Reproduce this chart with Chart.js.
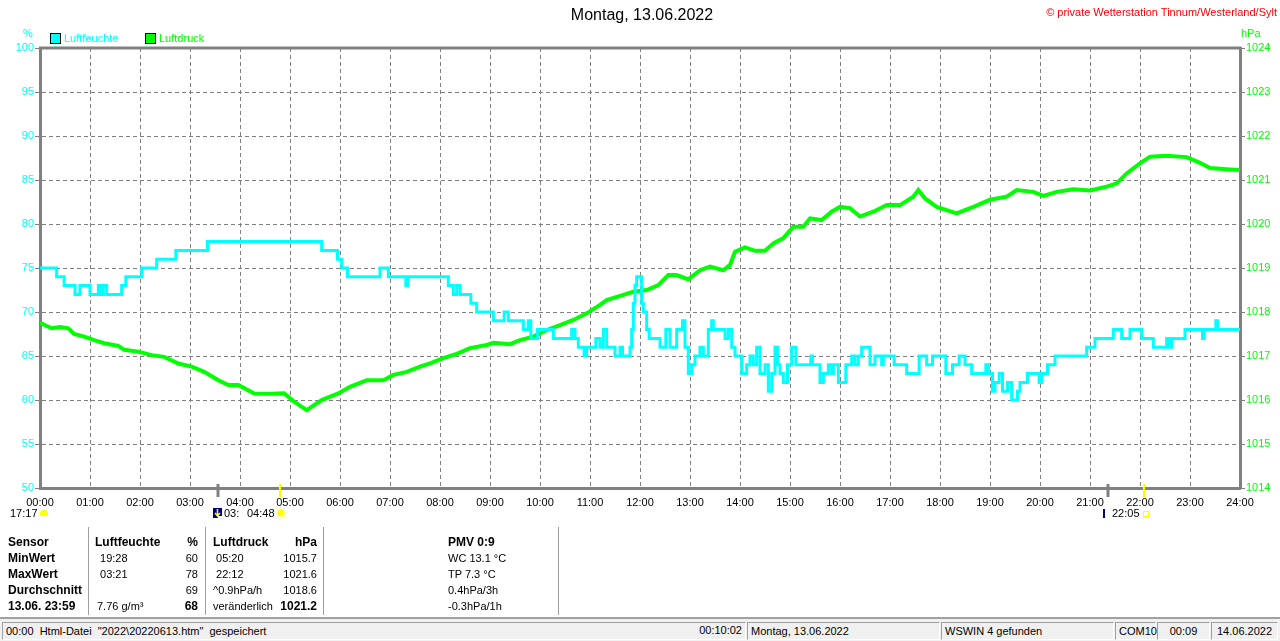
<!DOCTYPE html>
<html>
<head>
<meta charset="utf-8">
<script src="https://cdn.jsdelivr.net/npm/chart.js@4/dist/chart.umd.min.js"></script>
<style>
  html, body { margin:0; padding:0; background:#fff; }
  body { width:1280px; height:641px; position:relative; overflow:hidden; font-family:"Liberation Sans", Arial, sans-serif; font-size:11px; color:#000; }
  #c { position:absolute; left:0; top:0; }
  .abs { position:absolute; white-space:pre; line-height:14px; }
  .b { font-weight:bold; font-size:12px; }
  .r { text-align:right; }
  .sq { position:absolute; width:9px; height:9px; border:1px solid #000; }
  .vsep { position:absolute; top:527px; height:88px; width:1px; background:#a0a0a0; border-right:1px solid #fff; }
  #status { position:absolute; left:0; top:617px; width:1280px; height:24px; background:#f0f0f0; border-top:2px solid #a0a0a0; box-sizing:border-box; }
  .panel { position:absolute; top:3px; height:18px; box-sizing:border-box; border-top:1px solid #a0a0a0; border-left:1px solid #a0a0a0; border-bottom:1px solid #fff; border-right:1px solid #fff; line-height:16px; white-space:pre; padding:0 3px; }
</style>
</head>
<body>
<canvas id="c" width="1280" height="520"></canvas>

<!-- header texts -->
<div class="abs" style="left:0;width:1284px;top:6px;text-align:center;font-size:16px;line-height:18px;">Montag, 13.06.2022</div>
<div class="abs r" style="right:3px;top:5px;color:#ff0000;">© private Wetterstation Tinnum/Westerland/Sylt</div>
<div class="abs" style="left:23px;top:26px;color:#00ffff;">%</div>
<div class="abs" style="left:1241px;top:26px;color:#00ff00;">hPa</div>
<div id="legend"></div>

<!-- below-axis events -->
<div class="abs" style="left:10px;top:506px;">17:17</div>
<div style="position:absolute;left:40px;top:510px;width:8px;height:6px;background:#ffff00;border-radius:4px 4px 0 0;"></div>
<svg style="position:absolute;left:213px;top:508px;" width="9" height="10"><rect x="0" y="0" width="9" height="10" fill="#000080"/><path d="M4.5 1 L4.5 7 M2 5 L4.5 8 L7 5" stroke="#ffff00" stroke-width="1.5" fill="none"/><rect x="5" y="8" width="4" height="2" fill="#fff"/></svg>
<div class="abs" style="left:224px;top:506px;">03:</div>
<div class="abs" style="left:247px;top:506px;">04:48</div>
<svg style="position:absolute;left:275px;top:507px;" width="12" height="12"><circle cx="6" cy="6" r="3.5" fill="#ffff00"/><g stroke="#ffff66" stroke-width="1"><line x1="6" y1="0" x2="6" y2="2"/><line x1="6" y1="10" x2="6" y2="12"/><line x1="0" y1="6" x2="2" y2="6"/><line x1="10" y1="6" x2="12" y2="6"/><line x1="1.5" y1="1.5" x2="3" y2="3"/><line x1="9" y1="9" x2="10.5" y2="10.5"/><line x1="10.5" y1="1.5" x2="9" y2="3"/><line x1="1.5" y1="10.5" x2="3" y2="9"/></g></svg>
<div style="position:absolute;left:1103px;top:509px;width:2px;height:9px;background:#000080;"></div>
<div class="abs" style="left:1112px;top:506px;">22:05</div>
<div style="position:absolute;left:1143px;top:511px;width:4px;height:4px;border:1px solid #ffff00;"></div>

<!-- info table -->
<div class="vsep" style="left:88px;"></div>
<div class="vsep" style="left:205px;"></div>
<div class="vsep" style="left:323px;"></div>
<div class="vsep" style="left:558px;"></div>
<div id="table"></div>

<!-- status bar -->
<div id="status">
  <div class="panel" style="left:2px;width:744px;">00:00  Html-Datei  "2022\20220613.htm"  gespeichert</div>
  <div class="abs r" style="left:600px;width:142px;top:4px;">00:10:02</div>
  <div class="panel" style="left:747px;width:193px;">Montag, 13.06.2022</div>
  <div class="panel" style="left:941px;width:173px;">WSWIN 4 gefunden</div>
  <div class="panel" style="left:1115px;width:41px;">COM10</div>
  <div class="panel" style="left:1157px;width:53px;text-align:center;">00:09</div>
  <div class="panel" style="left:1211px;width:67px;text-align:center;">14.06.2022</div>
</div>

<script>
// ---------- data ----------
const hourTicks = [0,1,2,3,4,5,6,7,8,9,10,11,12,13,14,15,16,17,18,19,20,21,22,23,24];

const humTimes = ["00:00","00:20","00:29","00:42","00:48","01:00","01:10","01:13","01:16","01:20","01:38","01:43","02:02","02:20","02:43","03:21",
  "05:38","05:57","06:02","06:09","06:48","06:58","07:19","07:21","08:10","08:16","08:20","08:24","08:37","08:44","09:04","09:17","09:22","09:40",
  "09:46","09:49","09:57","10:16","10:38","10:42","10:46","10:53","10:56","11:07","11:12","11:16","11:20","11:30","11:36","11:39","11:48","11:50",
  "11:52","11:54","11:56","12:02","12:04","12:08","12:11","12:24","12:31","12:36","12:44","12:51","12:54","12:58","13:02","13:06","13:12","13:16",
  "13:22","13:26","13:28","13:42","13:46","13:50","13:54","14:02","14:08","14:12","14:16","14:20","14:24","14:30","14:34","14:38","14:42","14:45",
  "14:48","14:52","14:57","15:02","15:07","15:25","15:27","15:36","15:40","15:46","15:50","15:52","15:58","16:07","16:14","16:18","16:22","16:26",
  "16:36","16:42","16:50","16:52","17:05","17:20","17:35","17:44","17:51","18:07","18:15","18:23","18:30","18:38","18:55","18:58","19:03","19:06",
  "19:11","19:15","19:21","19:26","19:33","19:36","19:45","19:59","20:02","20:09","20:18","20:56","21:06","21:28","21:38","21:48","22:02","22:16",
  "22:32","22:35","22:38","22:54","23:15","23:17","23:31","23:33","24:00"];
const humValues = [75,74,73,72,73,72,73,72,73,72,73,74,75,76,77,78,
  77,76,75,74,75,74,73,74,73,72,73,72,71,70,69,70,69,68,
  69,67,68,67,68,67,66,65,66,67,66,68,66,65,66,65,66,68,
  71,73,74,71,70,68,67,66,68,66,68,69,66,63,64,65,66,65,
  68,69,68,67,68,66,65,63,64,65,64,66,63,64,61,63,66,64,
  63,62,64,66,64,65,64,62,63,64,63,64,62,64,65,64,65,66,
  64,65,64,65,64,63,65,64,65,63,64,65,64,63,64,63,61,62,
  63,61,62,60,61,62,63,62,63,64,65,66,67,68,67,68,67,66,
  67,66,67,68,67,68,69,68,68];

const pressTimes = ["00:00","00:06","00:14","00:24","00:34","00:41","00:53","01:05","01:17","01:34","01:41","01:58","02:14","02:29","02:46","03:02",
  "03:17","03:34","03:46","03:58","04:17","04:38","04:53","05:05","05:20","05:38","05:58","06:12","06:32","06:52","07:04","07:20","07:36","07:48",
  "08:04","08:20","08:36","08:56","09:04","09:24","09:36","09:52","10:08","10:24","10:40","10:56","11:12","11:20","11:40","11:52","12:08","12:22",
  "12:34","12:44","12:58","13:12","13:24","13:40","13:48","13:54","14:06","14:18","14:30","14:40","14:52","15:04","15:16","15:24","15:38","15:50",
  "16:00","16:12","16:24","16:40","16:56","17:12","17:28","17:34","17:42","17:56","18:20","18:40","19:00","19:20","19:32","19:52","20:04","20:20",
  "20:40","21:00","21:20","21:32","21:44","22:00","22:12","22:32","22:56","23:12","23:24","23:48","24:00"];
const pressValues = [1017.76,1017.70,1017.63,1017.66,1017.63,1017.50,1017.44,1017.36,1017.29,1017.23,1017.14,1017.10,1017.02,1016.98,1016.83,1016.76,
  1016.64,1016.45,1016.34,1016.34,1016.15,1016.14,1016.15,1015.96,1015.77,1016.00,1016.15,1016.30,1016.45,1016.45,1016.57,1016.64,1016.76,1016.83,
  1016.95,1017.05,1017.18,1017.25,1017.30,1017.27,1017.36,1017.44,1017.59,1017.70,1017.82,1017.97,1018.16,1018.27,1018.39,1018.46,1018.50,1018.61,
  1018.84,1018.84,1018.74,1018.95,1019.03,1018.95,1019.07,1019.37,1019.47,1019.39,1019.39,1019.56,1019.68,1019.94,1019.94,1020.13,1020.09,1020.28,
  1020.39,1020.36,1020.17,1020.28,1020.43,1020.43,1020.62,1020.77,1020.58,1020.39,1020.24,1020.39,1020.55,1020.62,1020.77,1020.73,1020.64,1020.73,
  1020.79,1020.76,1020.85,1020.92,1021.15,1021.38,1021.53,1021.55,1021.52,1021.39,1021.27,1021.24,1021.23];

const moonMarks = ["03:33","21:22"];
const sunMarks = ["04:48","22:05"];

const legendItems = [["Luftfeuchte","#00ffff",50,64],["Luftdruck","#00ff00",145,159]];

const tableRows = [
  ["Sensor","Luftfeuchte","%","Luftdruck","hPa","PMV 0:9"],
  ["MinWert"," 19:28","60"," 05:20","1015.7","WC 13.1 °C"],
  ["MaxWert"," 03:21","78"," 22:12","1021.6","TP 7.3 °C"],
  ["Durchschnitt","","69","^0.9hPa/h","1018.6","0.4hPa/3h"],
  ["13.06. 23:59","7.76 g/m³","68","veränderlich","1021.2","-0.3hPa/1h"]
];

// ---------- helpers ----------
function toH(s){ const p = s.split(':').map(Number); return p[0] + p[1]/60; }
function pad2(n){ return String(n).padStart(2,'0'); }

// legend
const lg = document.getElementById('legend');
legendItems.forEach(([t,c,sx,tx])=>{
  const s = document.createElement('div'); s.className='sq'; s.style.left=sx+'px'; s.style.top='33px'; s.style.background=c; lg.appendChild(s);
  const d = document.createElement('div'); d.className='abs'; d.style.left=tx+'px'; d.style.top='31px'; d.style.color=c; d.textContent=t; lg.appendChild(d);
});

// table
const tb = document.getElementById('table');
const colDefs = [
  {x:8, align:'left'}, {x:97, align:'left'}, {x:198, align:'right'},
  {x:213, align:'left'}, {x:317, align:'right'}, {x:448, align:'left'}
];
tableRows.forEach((row, ri)=>{
  row.forEach((txt, ci)=>{
    if(!txt) return;
    const d = document.createElement('div');
    d.className = 'abs';
    const bold = ri===0 || ci===0 || (ri===4 && (ci===2 || ci===4));
    if(bold) d.classList.add('b');
    const y = 535 + ri*16;
    d.style.top = y+'px';
    const cd = colDefs[ci];
    let x = cd.x;
    if(ri===0 && ci===1) x = 95;
    if(cd.align==='right'){ d.style.left=(x-100)+'px'; d.style.width='100px'; d.style.textAlign='right'; }
    else d.style.left = x+'px';
    d.textContent = txt;
    tb.appendChild(d);
  });
});

// ---------- chart ----------
const framePlugin = {
  id:'frame',
  beforeDatasetsDraw(chart){
    const {ctx, chartArea:a} = chart;
    ctx.save();
    ctx.strokeStyle='#808080'; ctx.lineWidth=3;
    ctx.beginPath(); ctx.moveTo(a.left-1, a.top); ctx.lineTo(a.right+1, a.top); ctx.stroke();
    ctx.restore();
  },
  afterDraw(chart){
    const {ctx, chartArea:a, scales} = chart;
    ctx.save();
    moonMarks.forEach(t=>{
      const x = Math.round(scales.x.getPixelForValue(toH(t)));
      ctx.strokeStyle='#808080'; ctx.lineWidth=3;
      ctx.beginPath(); ctx.moveTo(x, a.bottom-4); ctx.lineTo(x, a.bottom+9); ctx.stroke();
    });
    sunMarks.forEach(t=>{
      const x = Math.round(scales.x.getPixelForValue(toH(t)));
      ctx.strokeStyle='#ffff00'; ctx.lineWidth=2;
      ctx.beginPath(); ctx.moveTo(x, a.bottom-4); ctx.lineTo(x, a.bottom+9); ctx.stroke();
    });
    ctx.restore();
  }
};

const gridColor = '#808080';
const fontSpec = {family:'"Liberation Sans", Arial, sans-serif', size:11};

new Chart(document.getElementById('c'), {
  type:'line',
  data:{
    datasets:[
      { label:'Luftfeuchte', yAxisID:'yH', data: humTimes.map((t,i)=>({x:toH(t), y:humValues[i]})),
        borderColor:'#00ffff', backgroundColor:'#00ffff', borderWidth:3, pointRadius:0, stepped:'before', fill:false },
      { label:'Luftdruck', yAxisID:'yP', data: pressTimes.map((t,i)=>({x:toH(t), y:pressValues[i]})),
        borderColor:'#00ff00', backgroundColor:'#00ff00', borderWidth:4, pointRadius:0, tension:0, fill:false }
    ]
  },
  options:{
    responsive:false, animation:false, devicePixelRatio:1,
    layout:{ padding:{ top:48, left:0, right:0, bottom:0 } },
    plugins:{ legend:{display:false}, title:{display:false}, tooltip:{enabled:false} },
    scales:{
      x:{
        type:'linear', min:0, max:24,
        afterBuildTicks: s => { s.ticks = hourTicks.map(v=>({value:v})); },
        ticks:{ autoSkip:false, maxRotation:0, color:'#000', font:fontSpec, padding:8, callback: v => pad2(v)+':00' },
        grid:{ color:gridColor, lineWidth:1, drawTicks:false },
        border:{ color:gridColor, width:3, dash:[4,3] },
        afterFit: s => { s.height = 32; }
      },
      yH:{
        position:'left', min:50, max:100,
        ticks:{ stepSize:5, color:'#00ffff', font:fontSpec, padding:1, callback: v => String(v) },
        grid:{ color:gridColor, lineWidth:1, tickLength:5, tickBorderDash:[] },
        border:{ color:gridColor, width:3, dash:[4,3] },
        afterFit: s => { s.width = 40; }
      },
      yP:{
        position:'right', min:1014, max:1024,
        ticks:{ stepSize:1, color:'#00ff00', font:fontSpec, padding:1, callback: v => String(v) },
        grid:{ color:gridColor, lineWidth:1, tickLength:5, drawOnChartArea:false, tickBorderDash:[] },
        border:{ color:gridColor, width:3 },
        afterFit: s => { s.width = 40; }
      }
    }
  },
  plugins:[framePlugin]
});
</script>
</body>
</html>
